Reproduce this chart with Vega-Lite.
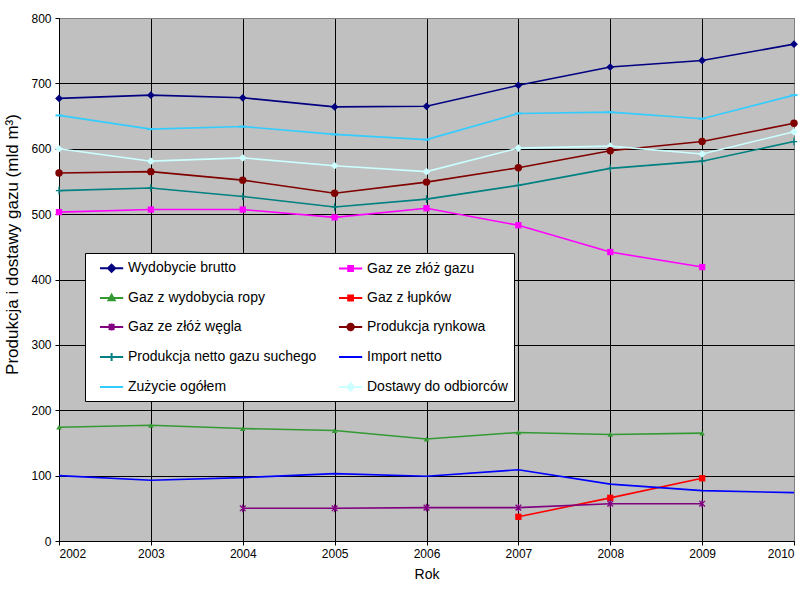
{
  "$schema": "https://vega.github.io/schema/vega-lite/v6.json",
  "autosize": {"type": "none"},
  "padding": {"left": 59, "top": 18, "right": 5, "bottom": 59},
  "width": 735,
  "height": 523,
  "background": "white",
  "config": {
    "font": "Liberation Sans",
    "view": {"fill": "#C0C0C0", "stroke": "#808080", "strokeWidth": 1}
  },
  "data": {
    "values": [
      {"rok": 2002, "seria": "Wydobycie brutto", "wartosc": 677},
      {"rok": 2003, "seria": "Wydobycie brutto", "wartosc": 682},
      {"rok": 2004, "seria": "Wydobycie brutto", "wartosc": 678},
      {"rok": 2005, "seria": "Wydobycie brutto", "wartosc": 664},
      {"rok": 2006, "seria": "Wydobycie brutto", "wartosc": 665},
      {"rok": 2007, "seria": "Wydobycie brutto", "wartosc": 697},
      {"rok": 2008, "seria": "Wydobycie brutto", "wartosc": 725},
      {"rok": 2009, "seria": "Wydobycie brutto", "wartosc": 735},
      {"rok": 2010, "seria": "Wydobycie brutto", "wartosc": 760},
      {"rok": 2002, "seria": "Gaz ze złóż gazu", "wartosc": 503},
      {"rok": 2003, "seria": "Gaz ze złóż gazu", "wartosc": 507},
      {"rok": 2004, "seria": "Gaz ze złóż gazu", "wartosc": 507},
      {"rok": 2005, "seria": "Gaz ze złóż gazu", "wartosc": 495},
      {"rok": 2006, "seria": "Gaz ze złóż gazu", "wartosc": 509},
      {"rok": 2007, "seria": "Gaz ze złóż gazu", "wartosc": 483},
      {"rok": 2008, "seria": "Gaz ze złóż gazu", "wartosc": 442},
      {"rok": 2009, "seria": "Gaz ze złóż gazu", "wartosc": 419},
      {"rok": 2002, "seria": "Gaz z wydobycia ropy", "wartosc": 174},
      {"rok": 2003, "seria": "Gaz z wydobycia ropy", "wartosc": 177},
      {"rok": 2004, "seria": "Gaz z wydobycia ropy", "wartosc": 172},
      {"rok": 2005, "seria": "Gaz z wydobycia ropy", "wartosc": 169},
      {"rok": 2006, "seria": "Gaz z wydobycia ropy", "wartosc": 156},
      {"rok": 2007, "seria": "Gaz z wydobycia ropy", "wartosc": 166},
      {"rok": 2008, "seria": "Gaz z wydobycia ropy", "wartosc": 163},
      {"rok": 2009, "seria": "Gaz z wydobycia ropy", "wartosc": 165},
      {"rok": 2007, "seria": "Gaz z łupków", "wartosc": 37},
      {"rok": 2008, "seria": "Gaz z łupków", "wartosc": 66},
      {"rok": 2009, "seria": "Gaz z łupków", "wartosc": 96},
      {"rok": 2004, "seria": "Gaz ze złóż węgla", "wartosc": 50},
      {"rok": 2005, "seria": "Gaz ze złóż węgla", "wartosc": 50},
      {"rok": 2006, "seria": "Gaz ze złóż węgla", "wartosc": 51},
      {"rok": 2007, "seria": "Gaz ze złóż węgla", "wartosc": 51},
      {"rok": 2008, "seria": "Gaz ze złóż węgla", "wartosc": 57},
      {"rok": 2009, "seria": "Gaz ze złóż węgla", "wartosc": 57},
      {"rok": 2002, "seria": "Produkcja rynkowa", "wartosc": 563},
      {"rok": 2003, "seria": "Produkcja rynkowa", "wartosc": 565},
      {"rok": 2004, "seria": "Produkcja rynkowa", "wartosc": 552},
      {"rok": 2005, "seria": "Produkcja rynkowa", "wartosc": 532},
      {"rok": 2006, "seria": "Produkcja rynkowa", "wartosc": 549},
      {"rok": 2007, "seria": "Produkcja rynkowa", "wartosc": 571},
      {"rok": 2008, "seria": "Produkcja rynkowa", "wartosc": 597},
      {"rok": 2009, "seria": "Produkcja rynkowa", "wartosc": 611},
      {"rok": 2010, "seria": "Produkcja rynkowa", "wartosc": 639},
      {"rok": 2002, "seria": "Produkcja netto gazu suchego", "wartosc": 536},
      {"rok": 2003, "seria": "Produkcja netto gazu suchego", "wartosc": 540},
      {"rok": 2004, "seria": "Produkcja netto gazu suchego", "wartosc": 527},
      {"rok": 2005, "seria": "Produkcja netto gazu suchego", "wartosc": 511},
      {"rok": 2006, "seria": "Produkcja netto gazu suchego", "wartosc": 523},
      {"rok": 2007, "seria": "Produkcja netto gazu suchego", "wartosc": 544},
      {"rok": 2008, "seria": "Produkcja netto gazu suchego", "wartosc": 570},
      {"rok": 2009, "seria": "Produkcja netto gazu suchego", "wartosc": 581},
      {"rok": 2010, "seria": "Produkcja netto gazu suchego", "wartosc": 611},
      {"rok": 2002, "seria": "Import netto", "wartosc": 100},
      {"rok": 2003, "seria": "Import netto", "wartosc": 93},
      {"rok": 2004, "seria": "Import netto", "wartosc": 97},
      {"rok": 2005, "seria": "Import netto", "wartosc": 103},
      {"rok": 2006, "seria": "Import netto", "wartosc": 99},
      {"rok": 2007, "seria": "Import netto", "wartosc": 109},
      {"rok": 2008, "seria": "Import netto", "wartosc": 87},
      {"rok": 2009, "seria": "Import netto", "wartosc": 77},
      {"rok": 2010, "seria": "Import netto", "wartosc": 74},
      {"rok": 2002, "seria": "Zużycie ogółem", "wartosc": 651},
      {"rok": 2003, "seria": "Zużycie ogółem", "wartosc": 630},
      {"rok": 2004, "seria": "Zużycie ogółem", "wartosc": 634},
      {"rok": 2005, "seria": "Zużycie ogółem", "wartosc": 622},
      {"rok": 2006, "seria": "Zużycie ogółem", "wartosc": 614},
      {"rok": 2007, "seria": "Zużycie ogółem", "wartosc": 654},
      {"rok": 2008, "seria": "Zużycie ogółem", "wartosc": 656},
      {"rok": 2009, "seria": "Zużycie ogółem", "wartosc": 646},
      {"rok": 2010, "seria": "Zużycie ogółem", "wartosc": 682},
      {"rok": 2002, "seria": "Dostawy do odbiorców", "wartosc": 600},
      {"rok": 2003, "seria": "Dostawy do odbiorców", "wartosc": 581},
      {"rok": 2004, "seria": "Dostawy do odbiorców", "wartosc": 586},
      {"rok": 2005, "seria": "Dostawy do odbiorców", "wartosc": 574},
      {"rok": 2006, "seria": "Dostawy do odbiorców", "wartosc": 565},
      {"rok": 2007, "seria": "Dostawy do odbiorców", "wartosc": 601},
      {"rok": 2008, "seria": "Dostawy do odbiorców", "wartosc": 604},
      {"rok": 2009, "seria": "Dostawy do odbiorców", "wartosc": 592},
      {"rok": 2010, "seria": "Dostawy do odbiorców", "wartosc": 626}
    ]
  },
  "encoding": {
    "x": {
      "field": "rok",
      "type": "quantitative",
      "title": "Rok",
      "scale": {"domain": [2002, 2010], "nice": false, "zero": false},
      "axis": {
        "values": [2002, 2003, 2004, 2005, 2006, 2007, 2008, 2009, 2010],
        "format": "d",
        "labelFontSize": 12,
        "labelColor": "black",
        "labelPadding": 3,
        "tickColor": "black",
        "tickSize": 4,
        "domainColor": "black",
        "gridColor": {"condition": {"test": "datum.value == 2010", "value": "#808080"}, "value": "black"},
        "gridOpacity": 1,
        "titleFontSize": 14,
        "titleFontWeight": "normal",
        "titleColor": "black",
        "titlePadding": 8
      }
    },
    "y": {
      "field": "wartosc",
      "type": "quantitative",
      "title": "Produkcja i dostawy gazu (mld m³)",
      "scale": {"domain": [0, 800], "nice": false},
      "axis": {
        "values": [0, 100, 200, 300, 400, 500, 600, 700, 800],
        "labelFontSize": 12,
        "labelColor": "black",
        "labelPadding": 4,
        "tickColor": "black",
        "tickSize": 4,
        "domainColor": "black",
        "gridColor": {"condition": {"test": "datum.value == 800", "value": "#808080"}, "value": "black"},
        "gridOpacity": 1,
        "titleFontSize": 17,
        "titleFontWeight": "normal",
        "titleColor": "black",
        "titleX": -38,
        "titleY": 226
      }
    },
    "color": {
      "field": "seria",
      "type": "nominal",
      "scale": {
        "domain": ["Wydobycie brutto", "Gaz ze złóż gazu", "Gaz z wydobycia ropy", "Gaz z łupków", "Gaz ze złóż węgla", "Produkcja rynkowa", "Produkcja netto gazu suchego", "Import netto", "Zużycie ogółem", "Dostawy do odbiorców"],
        "range": ["#000080", "#FF00FF", "#339933", "#FF0000", "#800080", "#800000", "#008080", "#0000FF", "#33CCFF", "#CCFFFF"]
      },
      "legend": null
    }
  },
  "layer": [
    {
      "mark": {"type": "line", "strokeWidth": 1.6},
      "encoding": {
        "color": {
          "field": "seria",
          "type": "nominal",
          "legend": {
            "orient": "none",
            "legendX": 26,
            "legendY": 235,
            "title": null,
            "direction": "horizontal",
            "columns": 2,
            "columnPadding": 13,
            "rowPadding": 13,
            "padding": 6,
            "fillColor": "white",
            "strokeColor": "black",
            "labelFontSize": 14,
            "labelColor": "black",
            "labelOffset": 19,
            "labelLimit": 400,
            "labelExpr": "datum.label == 'Dostawy do odbiorców' ? datum.label + '\u2003\u2003\u2003\u2003' : datum.label",
            "symbolSize": 256,
            "symbolStrokeWidth": 2,
            "symbolType": "stroke",
            "encode": {
              "symbols": {
                "update": {
                  "shape": {"signal": "datum.value == 'Wydobycie brutto' || datum.value == 'Dostawy do odbiorców' ? 'M0,0H2.9M1.45,-0.45L1.9,0L1.45,0.45L1,0Z' : (datum.value == 'Gaz ze złóż gazu' || datum.value == 'Gaz z łupków') ? 'M0,0H2.9M1.15,-0.3H1.75V0.3H1.15Z' : datum.value == 'Gaz z wydobycia ropy' ? 'M0,0H2.9M1.45,-0.4L1.83,0.28H1.07Z' : datum.value == 'Gaz ze złóż węgla' ? 'M0,0H2.9M1.1,-0.35L1.8,0.35M1.8,-0.35L1.1,0.35M1.45,-0.45V0.45' : datum.value == 'Produkcja rynkowa' ? 'M0,0H2.9M1.85,0A0.4,0.4,0,1,1,1.05,0A0.4,0.4,0,1,1,1.85,0Z' : datum.value == 'Produkcja netto gazu suchego' ? 'M0,0H2.9M1.45,-0.5V0.5' : 'M0,0H2.9'"},
                  "fill": {"signal": "scale('color', datum.value)"},
                  "stroke": {"signal": "scale('color', datum.value)"}
                }
              }
            }
          }
        }
      }
    },
    {
      "transform": [{"filter": {"field": "seria", "oneOf": ["Wydobycie brutto", "Dostawy do odbiorców"]}}],
      "mark": {"type": "point", "shape": "diamond", "filled": true, "opacity": 1, "size": 60}
    },
    {
      "transform": [{"filter": {"field": "seria", "oneOf": ["Gaz ze złóż gazu", "Gaz z łupków"]}}],
      "mark": {"type": "point", "shape": "square", "filled": true, "opacity": 1, "size": 40}
    },
    {
      "transform": [{"filter": {"field": "seria", "equal": "Gaz z wydobycia ropy"}}],
      "mark": {"type": "point", "shape": "triangle-up", "filled": true, "opacity": 1, "size": 30}
    },
    {
      "transform": [{"filter": {"field": "seria", "equal": "Produkcja rynkowa"}}],
      "mark": {"type": "point", "shape": "circle", "filled": true, "opacity": 1, "size": 55}
    },
    {
      "transform": [{"filter": {"field": "seria", "equal": "Gaz ze złóż węgla"}}],
      "mark": {"type": "point", "shape": "M-0.8,-0.8L0.8,0.8M0.8,-0.8L-0.8,0.8M0,-1.1V1.1", "filled": false, "opacity": 1, "size": 50, "strokeWidth": 1.3}
    },
    {
      "transform": [{"filter": {"field": "seria", "equal": "Produkcja netto gazu suchego"}}],
      "mark": {"type": "point", "shape": "M-1,0H1M0,-1.2V1.2", "filled": false, "opacity": 1, "size": 40, "strokeWidth": 1.3}
    },
    {
      "transform": [{"filter": {"field": "seria", "equal": "Zużycie ogółem"}}],
      "mark": {"type": "point", "shape": "M-1,0H1", "filled": false, "opacity": 1, "size": 50, "strokeWidth": 2}
    }
  ]
}
